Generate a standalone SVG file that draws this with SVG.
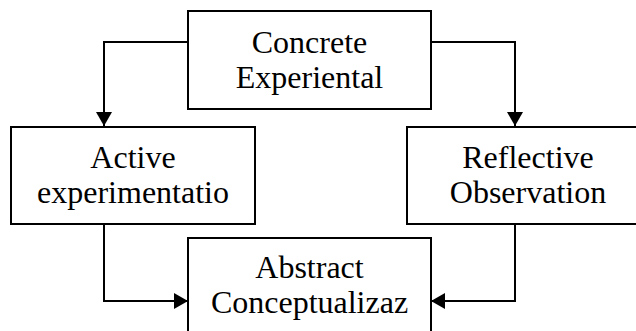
<svg xmlns="http://www.w3.org/2000/svg" width="636" height="331" viewBox="0 0 636 331">
<style>
.box{fill:#fff;stroke:#000;stroke-width:2}
.t{font-family:"Liberation Serif","Times New Roman",serif;font-size:32px;fill:#000;text-anchor:middle}
.c{fill:none;stroke:#000;stroke-width:2}
</style>
<defs>
<marker id="ah" markerUnits="userSpaceOnUse" markerWidth="16" markerHeight="16" viewBox="0 0 14 16" refX="14" refY="8" orient="auto">
<path d="M0,0 L14,8 L0,16 Z" fill="#000"/>
</marker>
</defs>
<rect width="636" height="331" fill="#fff"/>
<g id="connectors">
<path class="c" d="M188,42 H104 V126" marker-end="url(#ah)"/>
<path class="c" d="M431,42 H515 V126" marker-end="url(#ah)"/>
<path class="c" d="M104,225 V301 H188" marker-end="url(#ah)"/>
<path class="c" d="M515,225 V301 H431" marker-end="url(#ah)"/>
</g>
<g id="concrete">
<rect class="box" x="188" y="11" width="243" height="98"/>
<text class="t" x="309.5" y="53">Concrete</text>
<text class="t" x="309.5" y="88">Experiental</text>
</g>
<g id="active">
<rect class="box" x="11" y="127" width="244" height="97"/>
<text class="t" x="133" y="168">Active</text>
<text class="t" x="133" y="203">experimentatio</text>
</g>
<g id="reflective">
<rect class="box" x="407" y="127" width="242" height="97"/>
<text class="t" x="528" y="168">Reflective</text>
<text class="t" x="528" y="203">Observation</text>
</g>
<g id="abstract">
<rect class="box" x="188" y="238" width="243" height="100"/>
<text class="t" x="309.5" y="278">Abstract</text>
<text class="t" x="309.5" y="313">Conceptualizaz</text>
</g>
</svg>
